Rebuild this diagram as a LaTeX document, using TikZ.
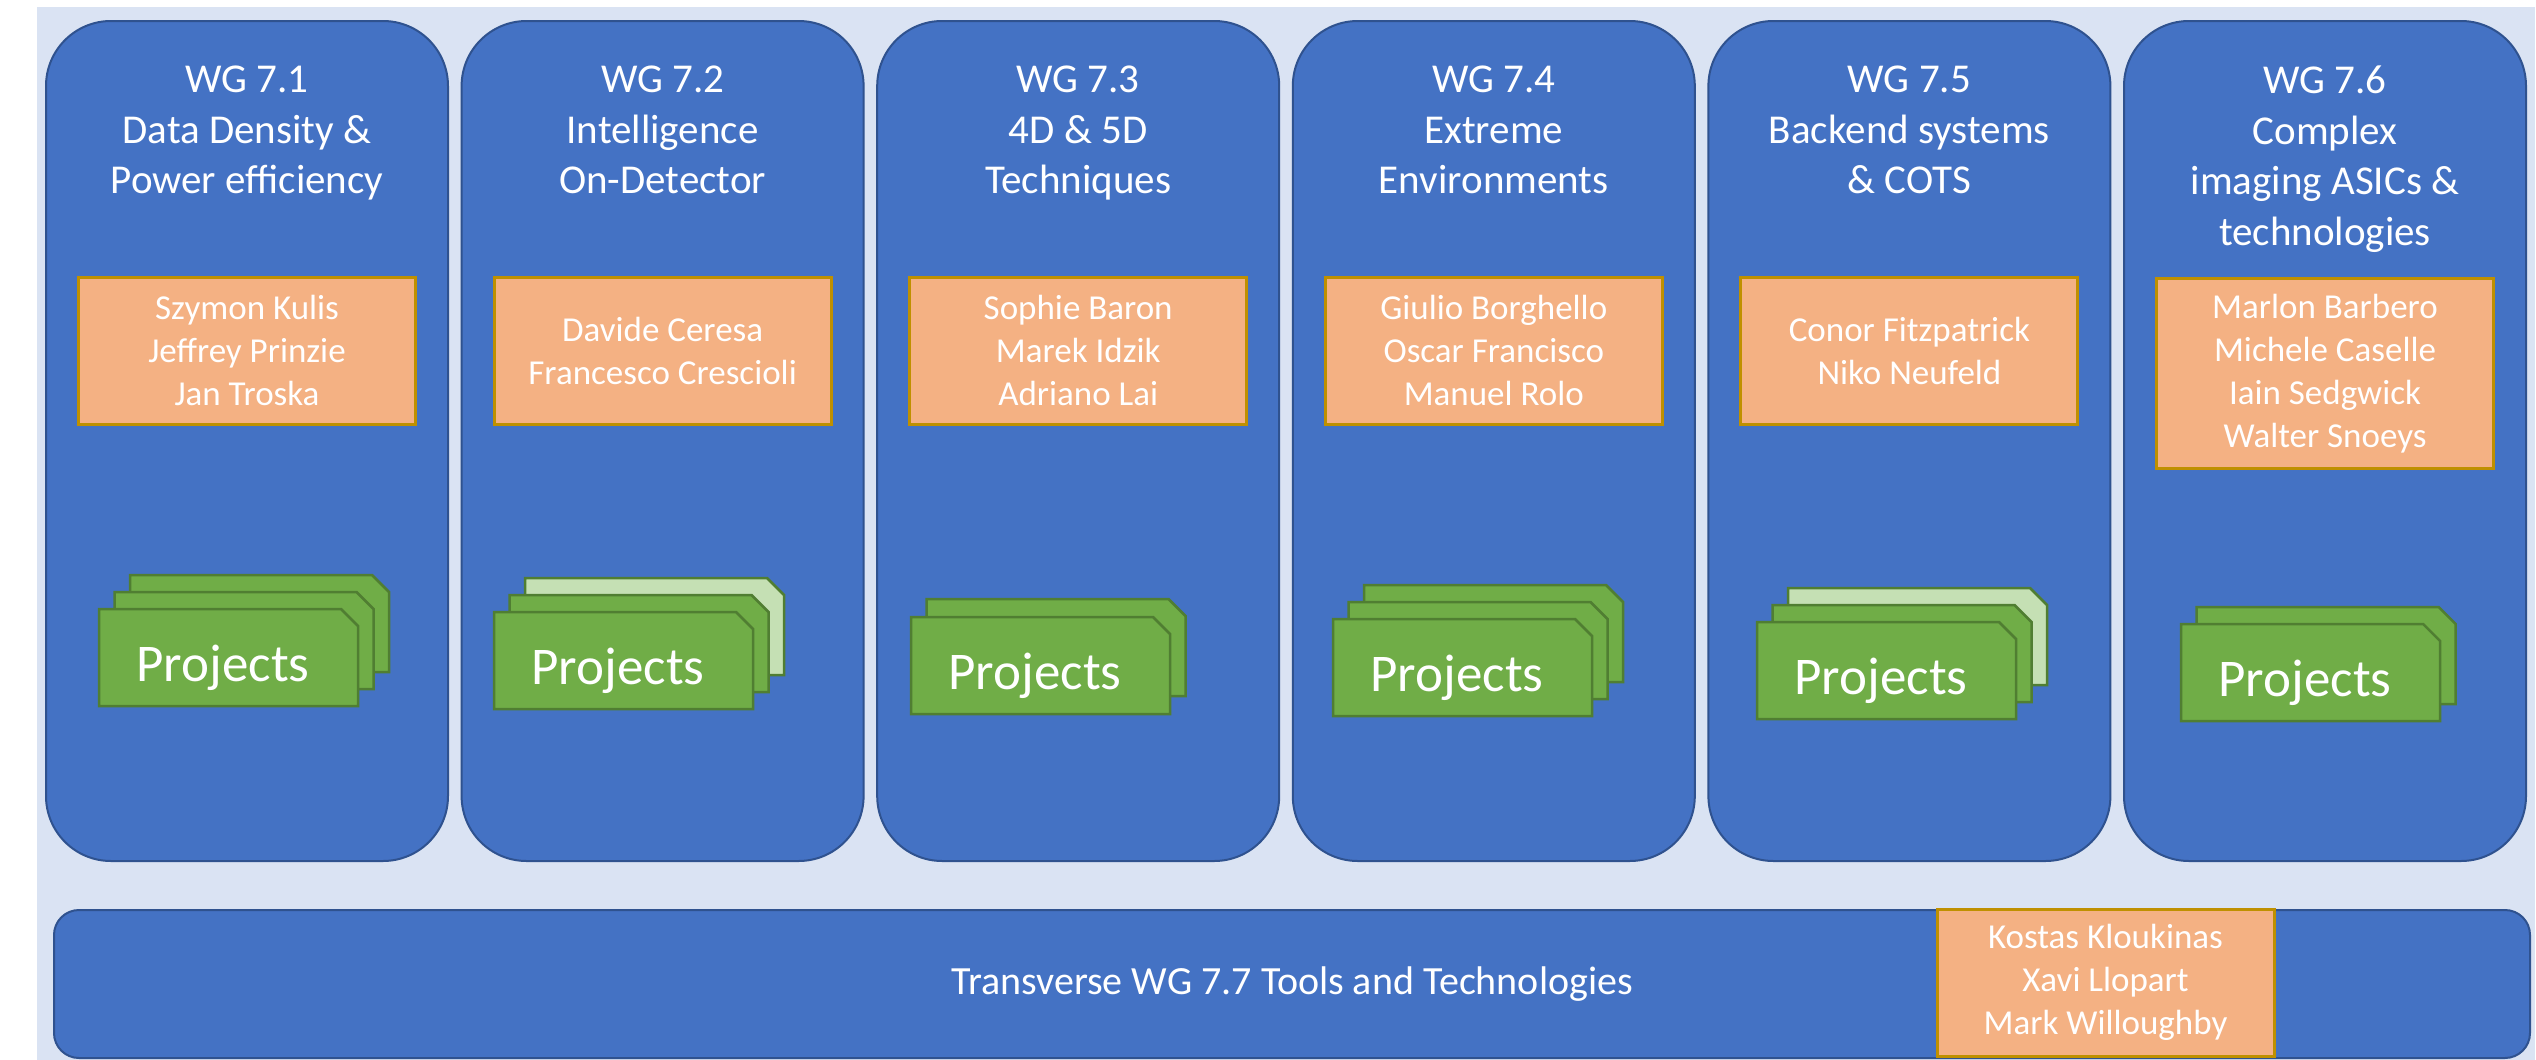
\documentclass[tikz,border=0pt]{standalone}
\usepackage{fontspec}
\setmainfont{Carlito}
\usetikzlibrary{positioning}

\definecolor{wgblue}{HTML}{4472C4}
\definecolor{wgedge}{HTML}{2F528F}
\definecolor{bglav}{HTML}{DAE3F3}
\definecolor{leadfill}{HTML}{F4B183}
\definecolor{leadedge}{HTML}{BF9000}
\definecolor{projgreen}{HTML}{70AD47}
\definecolor{projedge}{HTML}{507E32}
\definecolor{projpale}{HTML}{C5E0B4}

\tikzset{
  wgcol/.style={draw=wgedge,fill=wgblue,line width=2pt,rounded corners=65pt,
    minimum width=402pt,minimum height=840pt,inner sep=0pt},
  wgtitle/.style={anchor=north,align=center,text=white,inner sep=0pt,
    font=\fontsize{41}{50.5}\selectfont},
  leadbox/.style={draw=leadedge,fill=leadfill,line width=3pt,align=center,text=white,
    minimum width=337pt,minimum height=147pt,inner sep=0pt,
    font=\fontsize{35}{43}\selectfont},
  sheet/.style={draw=projedge,line width=2.5pt,fill=projgreen},
  projtext/.style={anchor=base,text=white,inner sep=0pt,font=\fontsize{53}{60}\selectfont},
  wgbar/.style={draw=wgedge,fill=wgblue,line width=2pt,rounded corners=25pt,
    minimum width=2476pt,minimum height=148pt,inner sep=0pt,text=white,
    font=\fontsize{40}{48}\selectfont}
}

% one project sheet, top-left corner at (#1,#2)
\newcommand{\projsheet}[3]{\draw[sheet,fill=#3] (#1,#2) -- ++(242,0) -- ++(17,17) -- ++(0,80) -- ++(-259,0) -- cycle;}

\begin{document}
\begin{tikzpicture}[x=1pt,y=1pt,yscale=-1]
\useasboundingbox (0,0) rectangle (2536,1060);
%Background
\fill[bglav] (37,7) rectangle (2535,1060);

%Working group columns
\foreach \i in {1,...,6} {
  \pgfmathsetmacro\xc{247+(\i-1)*415.6}
  \node[wgcol] (wg\i) at (\xc,441) {};
}

% Text Node
\node[wgtitle] (title1) at (247,66) {WG 7.1\\Data Density \&\\Power efficiency};
\node[wgtitle] (title2) at (662.6,66) {WG 7.2\\Intelligence\\On-Detector};
\node[wgtitle] (title3) at (1078.2,66) {WG 7.3\\4D \& 5D\\Techniques};
\node[wgtitle] (title4) at (1493.8,66) {WG 7.4\\Extreme\\Environments};
\node[wgtitle] (title5) at (1909.4,66) {WG 7.5\\Backend systems\\\& COTS};
\node[wgtitle] (title6) at (2325,66) {WG 7.6\\Complex\\imaging ASICs \&\\technologies};

%Conveners
\node[leadbox] (lead1) at (247,350.5) {Szymon Kulis\\Jeffrey Prinzie\\Jan Troska};
\node[leadbox] (lead2) at (662.6,350.5) {Davide Ceresa\\Francesco Crescioli};
\node[leadbox] (lead3) at (1078.2,350.5) {Sophie Baron\\Marek Idzik\\Adriano Lai};
\node[leadbox] (lead4) at (1493.8,350.5) {Giulio Borghello\\Oscar Francisco\\Manuel Rolo};
\node[leadbox] (lead5) at (1909.4,350.5) {Conor Fitzpatrick\\Niko Neufeld};
\node[leadbox,minimum height=190pt] (lead6) at (2325,373.5) {Marlon Barbero\\Michele Caselle\\Iain Sedgwick\\Walter Snoeys};

%Project stacks
\projsheet{130}{575}{projgreen}
\projsheet{114.5}{592}{projgreen}
\projsheet{99}{609}{projgreen}
\node[projtext] (proj1) at (223,681) {Projects};

\projsheet{525}{578}{projpale}
\projsheet{509.5}{595}{projgreen}
\projsheet{494}{612}{projgreen}
\node[projtext] (proj2) at (618,684) {Projects};

\projsheet{926.5}{599}{projgreen}
\projsheet{911}{617}{projgreen}
\node[projtext] (proj3) at (1035,689) {Projects};

\projsheet{1364}{585}{projgreen}
\projsheet{1348.5}{602}{projgreen}
\projsheet{1333}{619}{projgreen}
\node[projtext] (proj4) at (1457,691) {Projects};

\projsheet{1788}{588}{projpale}
\projsheet{1772.5}{605}{projgreen}
\projsheet{1757}{622}{projgreen}
\node[projtext] (proj5) at (1881,694) {Projects};

\projsheet{2196.5}{607}{projgreen}
\projsheet{2181}{624}{projgreen}
\node[projtext] (proj6) at (2305,696) {Projects};

%Transverse working group
\node[wgbar] (wg7) at (1292,984) {Transverse WG 7.7 Tools and Technologies};
\node[leadbox] (lead7) at (2105.5,982.5) {Kostas Kloukinas\\Xavi Llopart\\Mark Willoughby};
\end{tikzpicture}
\end{document}
